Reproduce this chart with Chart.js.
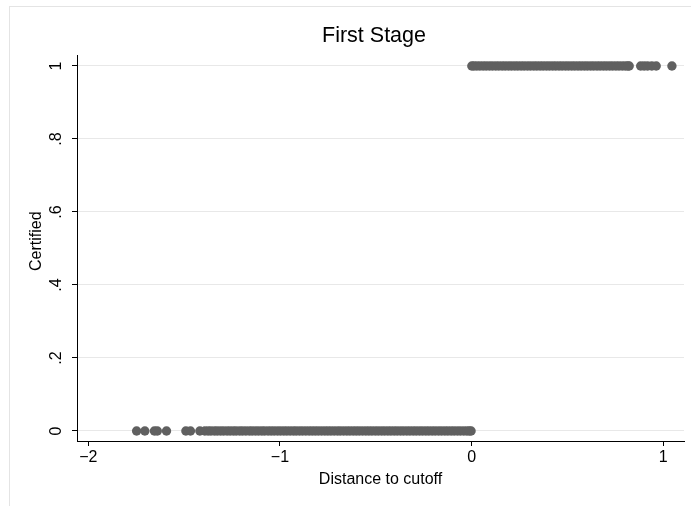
<!DOCTYPE html>
<html>
<head>
<meta charset="utf-8">
<script src="https://cdn.jsdelivr.net/npm/chart.js@4.4.1/dist/chart.umd.min.js"></script>
<style>
  html, body { margin: 0; padding: 0; background: #fff; }
  #wrap { width: 691px; height: 506px; position: relative; }
</style>
</head>
<body>
<div id="wrap"><canvas id="c" width="691" height="506"></canvas></div>
<script>
// Labels
const chartTitle = 'First Stage';
const xAxisTitle = 'Distance to cutoff';
const yAxisTitle = 'Certified';

// Axis ticks
const xTickValues = [-2, -1, 0, 1];
const yTickValues = [0, 0.2, 0.4, 0.6, 0.8, 1];
const yTickLabels = ['0', '.2', '.4', '.6', '.8', '1'];

// Distance to cutoff for units below the cutoff (Certified = 0)
const belowCutoffX = [
  -1.748, -1.705, -1.655, -1.640, -1.592, -1.491, -1.467, -1.418,
  -1.392, -1.375, -1.360, -1.342, -1.327, -1.310, -1.294, -1.276, -1.260, -1.243,
  -1.228, -1.210, -1.195, -1.178, -1.160, -1.145, -1.128, -1.112, -1.095, -1.080,
  -1.062, -1.046, -1.030, -1.013, -0.997, -0.980, -0.964, -0.947, -0.930, -0.915,
  -0.898, -0.882, -0.865, -0.848, -0.832, -0.816, -0.800, -0.783, -0.766, -0.750,
  -0.734, -0.717, -0.700, -0.685, -0.668, -0.651, -0.635, -0.618, -0.602, -0.586,
  -0.569, -0.552, -0.536, -0.520, -0.503, -0.487, -0.470, -0.454, -0.437, -0.421,
  -0.404, -0.388, -0.371, -0.355, -0.338, -0.322, -0.305, -0.289, -0.272, -0.256,
  -0.239, -0.223, -0.206, -0.190, -0.173, -0.157, -0.140, -0.124, -0.107, -0.091,
  -0.074, -0.058, -0.041, -0.025, -0.012, -0.003
];

// Distance to cutoff for units at or above the cutoff (Certified = 1)
const aboveCutoffX = [
  0.001, 0.012, 0.027, 0.043, 0.060, 0.076, 0.093, 0.109, 0.126, 0.142,
  0.159, 0.175, 0.192, 0.208, 0.225, 0.241, 0.258, 0.274, 0.291, 0.307,
  0.324, 0.340, 0.357, 0.373, 0.390, 0.406, 0.423, 0.439, 0.456, 0.472,
  0.489, 0.505, 0.522, 0.538, 0.555, 0.571, 0.588, 0.604, 0.621, 0.637,
  0.654, 0.670, 0.687, 0.703, 0.720, 0.736, 0.753, 0.769, 0.786, 0.802,
  0.815, 0.822, 0.882, 0.900, 0.918, 0.940, 0.963, 1.045
];

const belowCertified = belowCutoffX.map(() => 0);
const aboveCertified = aboveCutoffX.map(() => 1);

const FONT = '"Liberation Sans", Arial, Helvetica, sans-serif';
const MARKER = '#606060';
const LABEL_SIZE = 16;

function fmtNum(v) {
  return v < 0 ? '\u2212' + Math.abs(v) : String(v);
}

// Light outer frame, title, y axis title and rotated y tick labels
const decorPlugin = {
  id: 'decor',
  beforeDraw(chart) {
    const ctx = chart.ctx;
    ctx.save();
    ctx.fillStyle = '#ffffff';
    ctx.fillRect(0, 0, chart.width, chart.height);
    ctx.strokeStyle = '#e4e4e4';
    ctx.lineWidth = 1;
    ctx.strokeRect(9.5, 6.5, 900, 700);
    ctx.restore();
  },
  afterDraw(chart) {
    const ctx = chart.ctx;
    const ys = chart.scales.y;
    ctx.save();
    ctx.fillStyle = '#000';
    ctx.font = '21.5px ' + FONT;
    ctx.textAlign = 'center';
    ctx.textBaseline = 'middle';
    ctx.fillText(chartTitle, 374, 36);

    ctx.font = LABEL_SIZE + 'px ' + FONT;
    // y axis title, centred a little above the middle of the axis
    ctx.save();
    ctx.translate(37, ys.getPixelForValue(0.52));
    ctx.rotate(-Math.PI / 2);
    ctx.fillText(yAxisTitle, 0, 0);
    ctx.restore();

    yTickValues.forEach((v, i) => {
      const py = ys.getPixelForValue(v);
      ctx.save();
      ctx.translate(ys.right - 20, py);
      ctx.rotate(-Math.PI / 2);
      ctx.textAlign = 'center';
      ctx.textBaseline = 'middle';
      ctx.fillText(yTickLabels[i], 0, 0);
      ctx.restore();
    });
    ctx.restore();
  }
};

new Chart(document.getElementById('c'), {
  type: 'scatter',
  data: {
    datasets: [
      {
        label: 'Below cutoff',
        data: belowCutoffX.map((x, i) => ({ x, y: belowCertified[i] })),
        backgroundColor: MARKER,
        borderWidth: 0,
        pointRadius: 4.7,
        pointHoverRadius: 4.7
      },
      {
        label: 'Above cutoff',
        data: aboveCutoffX.map((x, i) => ({ x, y: aboveCertified[i] })),
        backgroundColor: MARKER,
        borderWidth: 0,
        pointRadius: 4.7,
        pointHoverRadius: 4.7
      }
    ]
  },
  options: {
    responsive: false,
    devicePixelRatio: 1,
    animation: false,
    events: [],
    layout: { padding: { left: 28, right: 7, top: 55, bottom: 17 } },
    plugins: {
      legend: { display: false },
      title: { display: false },
      tooltip: { enabled: false }
    },
    scales: {
      x: {
        type: 'linear',
        min: -2.059,
        max: 1.108,
        afterBuildTicks: s => { s.ticks = xTickValues.map(v => ({ value: v })); },
        afterFit: s => { s.height = 48; },
        ticks: {
          callback: v => fmtNum(v),
          font: { family: FONT, size: LABEL_SIZE },
          color: '#000',
          padding: 2,
          maxRotation: 0,
          autoSkip: false
        },
        grid: { drawOnChartArea: false, drawTicks: true, tickLength: 5, tickColor: '#000' },
        border: { color: '#000', width: 1 },
        title: {
          display: true,
          text: xAxisTitle,
          font: { family: FONT, size: LABEL_SIZE },
          color: '#000',
          padding: 0
        }
      },
      y: {
        type: 'linear',
        min: -0.0274,
        max: 1.0301,
        afterBuildTicks: s => { s.ticks = yTickValues.map(v => ({ value: v })); },
        afterFit: s => { s.width = 49; },
        ticks: { display: false },
        grid: { color: '#e8e8e8', lineWidth: 1, drawTicks: true, tickLength: 5, tickColor: '#000' },
        border: { color: '#000', width: 1 },
        title: { display: false }
      }
    }
  },
  plugins: [decorPlugin]
});
</script>
</body>
</html>
